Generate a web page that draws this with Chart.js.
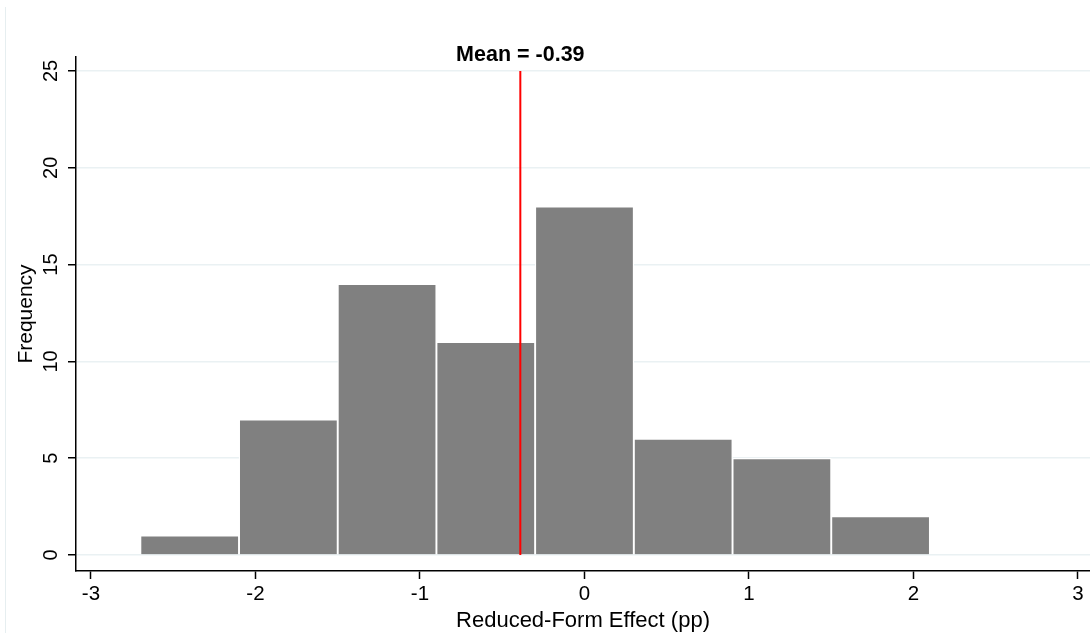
<!DOCTYPE html>
<html>
<head>
<meta charset="utf-8">
<script src="https://cdn.jsdelivr.net/npm/chart.js@4.4.1/dist/chart.umd.min.js"></script>
<style>
  html, body { margin: 0; padding: 0; background: #ffffff; }
  #wrap { position: relative; width: 1090px; height: 635px; }
  #edge { position: absolute; left: 5px; top: 7px; width: 0; height: 626px; border-left: 1px solid #e6eef0; }
</style>
</head>
<body>
<div id="wrap">
  <canvas id="c" width="1090" height="635"></canvas>
  <div id="edge"></div>
</div>
<script>
// ---- data ----
const binStarts   = [-2.7, -2.1, -1.5, -0.9, -0.3, 0.3, 0.9, 1.5];
const binWidth    = 0.6;
const frequencies = [1, 7, 14, 11, 18, 6, 5, 2];
const xTicks      = [-3, -2, -1, 0, 1, 2, 3];
const yTicks      = [0, 5, 10, 15, 20, 25];
const meanValue   = -0.39;
const xTitle      = 'Reduced-Form Effect (pp)';
const yTitle      = 'Frequency';
const meanLabel   = 'Mean = ' + meanValue.toFixed(2);

const FONT = "'Liberation Sans', Arial, Helvetica, sans-serif";

const barData  = binStarts.map((s, i) => ({ x: s + binWidth / 2, y: frequencies[i] }));
const meanData = [{ x: meanValue, y: yTicks[0] }, { x: meanValue, y: yTicks[yTicks.length - 1] }];

const meanTitlePlugin = {
  id: 'meanTitle',
  afterDatasetsDraw(chart) {
    const ctx = chart.ctx;
    const x = chart.scales.x.getPixelForValue(meanValue);
    ctx.save();
    ctx.font = "bold 21.5px " + FONT;
    ctx.fillStyle = '#000';
    ctx.textAlign = 'center';
    ctx.textBaseline = 'alphabetic';
    ctx.fillText(meanLabel, x, 61);
    ctx.restore();
  }
};

new Chart(document.getElementById('c'), {
  data: {
    datasets: [
      {
        type: 'line',
        data: meanData,
        borderColor: '#ff0000',
        borderWidth: 2,
        pointRadius: 0,
        order: 0
      },
      {
        type: 'bar',
        data: barData,
        backgroundColor: '#808080',
        borderColor: '#ffffff',
        borderWidth: 1.3,
        barPercentage: 1,
        categoryPercentage: 1,
        order: 1
      }
    ]
  },
  options: {
    responsive: false,
    animation: false,
    layout: { padding: { top: 57, right: 0, left: 0, bottom: 0 } },
    plugins: { legend: { display: false }, tooltip: { enabled: false } },
    scales: {
      x: {
        type: 'linear',
        offset: false,
        min: -3.091,
        max: 3.073,
        afterBuildTicks: s => { s.ticks = xTicks.map(v => ({ value: v })); },
        afterFit: s => { s.height = 64; },
        border: { color: '#000', width: 1.5 },
        grid: { offset: false, drawOnChartArea: false, drawTicks: true, tickLength: 8, tickColor: '#000', tickWidth: 1.5 },
        ticks: { color: '#000', font: { family: FONT, size: 20.5 }, padding: 3, maxRotation: 0, autoSkip: false },
        title: { display: true, text: xTitle, color: '#000', font: { family: FONT, size: 22 }, padding: { top: 0, bottom: 1 } }
      },
      y: {
        type: 'linear',
        min: -0.826,
        max: 25.72,
        afterBuildTicks: s => { s.ticks = yTicks.map(v => ({ value: v })); },
        afterFit: s => { s.width = 76; },
        border: { color: '#000', width: 1.5 },
        grid: { color: '#eaf1f3', lineWidth: 1.5, drawTicks: true, tickLength: 8, tickColor: '#000', tickWidth: 1.5 },
        ticks: { color: '#000', font: { family: FONT, size: 20 }, padding: 5, minRotation: 90, maxRotation: 90, crossAlign: 'center', autoSkip: false },
        title: { display: true, text: yTitle, color: '#000', font: { family: FONT, size: 21 }, padding: { top: 14, bottom: 0 } }
      }
    }
  },
  plugins: [meanTitlePlugin]
});
</script>
</body>
</html>
